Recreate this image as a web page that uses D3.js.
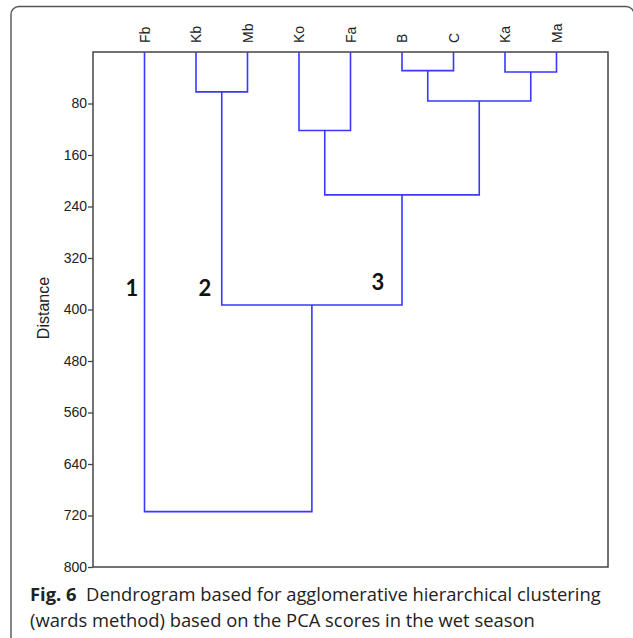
<!DOCTYPE html>
<html>
<head>
<meta charset="utf-8">
<script src="https://cdn.jsdelivr.net/npm/d3@7"></script>
<style>
html,body{margin:0;padding:0;background:#fff;}
svg{display:block;}
</style>
</head>
<body>
<svg id="chart" width="633" height="638"></svg>
<script>
// ---- data ----
const leaves = ["Fb","Kb","Mb","Ko","Fa","B","C","Ka","Ma"];
const mergeNames  = ["m0","m1","m2","m3","m4","m5","m6","m7"];
const mergeLeft   = ["B","Ka","Kb","m0","Ko","m4","m2","Fb"];
const mergeRight  = ["C","Ma","Mb","m1","Fa","m3","m5","m6"];
const mergeHeight = [29, 31, 62, 76, 122, 222, 393, 714];
const yTicks = [80,160,240,320,400,480,560,640,720,800];
const clusterLabels = ["1","2","3"];
const clusterLabelX = [132, 205, 378];
const clusterLabelY = [296, 296, 290];
const captionBold = "Fig. 6";
const captionLine1 = "Dendrogram based for agglomerative hierarchical clustering";
const captionLine2 = "(wards method) based on the PCA scores in the wet season";

// ---- layout ----
const svg = d3.select("#chart");
const L = 93, R = 608, T = 52, B = 567;
const x = d3.scalePoint().domain(leaves).range([L, R]).padding(1);
const y = d3.scaleLinear().domain([0, 800]).range([T, B]);

// outer rounded frame
svg.append("rect")
  .attr("x", 11).attr("y", 6.5).attr("width", 623).attr("height", 640)
  .attr("rx", 8).attr("ry", 8)
  .attr("fill", "none").attr("stroke", "#555").attr("stroke-width", 1.4);

// plot frame
svg.append("rect")
  .attr("x", L).attr("y", T).attr("width", R - L).attr("height", B - T)
  .attr("fill", "none").attr("stroke", "#444").attr("stroke-width", 1.5);

// y axis
const ax = svg.append("g").attr("transform", `translate(${L},0)`)
  .call(d3.axisLeft(y).tickValues(yTicks).tickSize(5).tickPadding(1));
ax.select(".domain").remove();
ax.selectAll(".tick line").attr("stroke", "#444").attr("stroke-width", 1.3);
ax.selectAll(".tick text").attr("fill", "#222")
  .style("font-family", "'Liberation Sans', Arial, sans-serif").style("font-size", "14px");

// axis title
svg.append("text")
  .attr("transform", `translate(49,308) rotate(-90)`)
  .attr("text-anchor", "middle")
  .style("font-family", "'Liberation Sans', Arial, sans-serif").style("font-size", "16px")
  .attr("fill", "#222").text("Distance");

// leaf labels
svg.append("g").selectAll("text").data(leaves).join("text")
  .attr("transform", d => `translate(${x(d) + 5},43) rotate(-90)`)
  .attr("text-anchor", "start")
  .style("font-family", "'Liberation Sans', Arial, sans-serif").style("font-size", "14px")
  .attr("fill", "#222").text(d => d);

// dendrogram
const pos = {};
leaves.forEach(l => { pos[l] = { x: x(l), h: 0 }; });
const lines = svg.append("g").attr("fill", "none").attr("stroke", "#3838ff")
  .attr("stroke-width", 1.6).attr("stroke-linejoin", "miter");
mergeNames.forEach((m, i) => {
  const a = pos[mergeLeft[i]], b = pos[mergeRight[i]], h = mergeHeight[i];
  pos[m] = { x: (a.x + b.x) / 2, h: h };
  lines.append("path")
    .attr("d", `M${a.x},${y(a.h)}V${y(h)}H${b.x}V${y(b.h)}`);
});

// cluster labels
svg.append("g").selectAll("text").data(clusterLabels).join("text")
  .attr("x", (d, i) => clusterLabelX[i]).attr("y", (d, i) => clusterLabelY[i])
  .attr("text-anchor", "middle")
  .style("font-family", "Lato, 'Open Sans', sans-serif").style("font-weight", "bold")
  .style("font-size", "22px").attr("fill", "#111").text(d => d);

// caption
const cap = svg.append("g").style("font-family", "'Open Sans', 'Noto Sans', sans-serif").attr("fill", "#222");
const t1 = cap.append("text").attr("x", 30).attr("y", 601);
t1.append("tspan").style("font-weight", "bold").text(captionBold);
t1.append("tspan").text("\u00a0\u00a0" + captionLine1);
const t2 = cap.append("text").attr("x", 30).attr("y", 627).text(captionLine2);
let fs = 18;
cap.style("font-size", fs + "px");
const w = t1.node().getComputedTextLength();
fs = fs * 571 / w;
cap.style("font-size", fs + "px");
</script>
</body>
</html>
